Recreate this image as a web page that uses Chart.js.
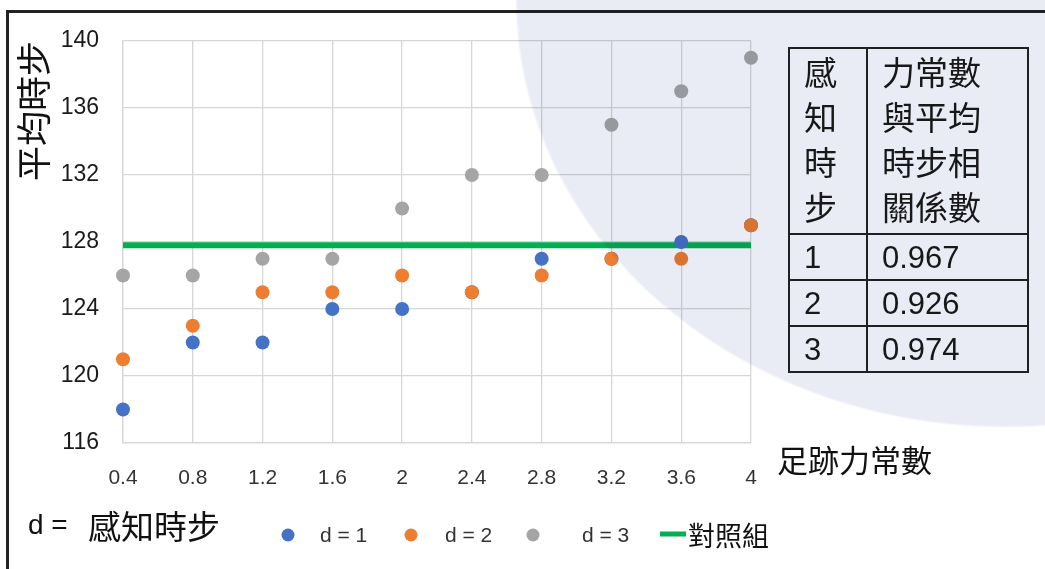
<!DOCTYPE html>
<html>
<head>
<meta charset="utf-8">
<script src="https://cdn.jsdelivr.net/npm/chart.js@4/dist/chart.umd.min.js"></script>
<style>
  html, body { margin: 0; padding: 0; background: #fff; }
  #wrap { position: relative; width: 1045px; height: 569px; overflow: hidden; }
  #frame { position: absolute; left: 6px; top: 10px; width: 1100px; height: 600px;
           border-left: 3px solid #222; border-top: 3px solid #222; }
  canvas { position: absolute; left: 0; top: 0; }
  .txt { position: absolute; white-space: nowrap; color: #111; }
  #corr { position: absolute; left: 788px; top: 47px; border-collapse: collapse;
          table-layout: fixed; font-family: "Liberation Sans", "Noto Sans CJK TC", sans-serif; color: #1a1a1a; }
  #corr td { border: 2px solid #222; padding: 0 0 0 14px; vertical-align: middle; }
  #corr .hd td { font-family: "Noto Sans CJK TC", sans-serif; font-size: 33px; line-height: 45px; vertical-align: top; height: 184px; }
  #corr .num td { font-size: 31px; line-height: 31px; height: 44px; }
  #tint { position: absolute; left: 0; top: 0; width: 1045px; height: 569px; pointer-events: none;
          mix-blend-mode: multiply;
          background: radial-gradient(490px 428px at 1005px 0px, #e9ecf5 0, #e9ecf5 99.4%, rgba(255,255,255,0) 100%); }
</style>
</head>
<body>
<div id="wrap">
  <div id="frame"></div>
  <canvas id="chart" width="1045" height="569"></canvas>
  <div class="txt" style="left:777px; top:443px; font-family:'Noto Sans CJK TC'; font-size:31px; line-height:31px;">足跡力常數</div>
  <div class="txt" style="left:28px; top:510px; font-family:'Liberation Sans'; font-size:28px; line-height:30px;">d =</div>
  <div class="txt" style="left:88px; top:509px; font-family:'Noto Sans CJK TC'; font-size:33px; line-height:33px;">感知時步</div>
  <table id="corr">
    <colgroup><col style="width:78px"><col style="width:161px"></colgroup>
    <tr class="hd"><td>感<br>知<br>時<br>步</td><td>力常數<br>與平均<br>時步相<br>關係數</td></tr>
    <tr class="num"><td>1</td><td>0.967</td></tr>
    <tr class="num"><td>2</td><td>0.926</td></tr>
    <tr class="num"><td>3</td><td>0.974</td></tr>
  </table>
  <div id="tint"></div>
</div>
<script>
const forceLabels = ['0.4', '0.8', '1.2', '1.6', '2', '2.4', '2.8', '3.2', '3.6', '4'];
const stepD1 = [118, 122, 122, 124, 124, 125, 127, 127, 128, 129];
const stepD2 = [121, 123, 125, 125, 126, 125, 126, 127, 127, 129];
const stepD3 = [126, 126, 127, 127, 130, 132, 132, 135, 137, 139];
const control = [127.8, 127.8, 127.8, 127.8, 127.8, 127.8, 127.8, 127.8, 127.8, 127.8];
const yTicks = [116, 120, 124, 128, 132, 136, 140];

// legend drawn by hand so the spacing matches the original
const legendSpots = [[288, 320], [411, 445], [533, 582], [673, 688]];
const customLegend = {
  id: 'customLegend',
  afterDraw(chart) {
    const ctx = chart.ctx;
    const y = 535;
    ctx.save();
    chart.data.datasets.forEach(function (ds, i) {
      const [mx, tx] = legendSpots[i];
      if (ds.showLine === false) {
        ctx.beginPath();
        ctx.arc(mx, y, 6.5, 0, Math.PI * 2);
        ctx.fillStyle = ds.backgroundColor;
        ctx.fill();
      } else {
        ctx.strokeStyle = ds.borderColor;
        ctx.lineWidth = 5;
        ctx.beginPath();
        ctx.moveTo(mx - 13, y - 1);
        ctx.lineTo(mx + 13, y - 1);
        ctx.stroke();
      }
      const cjk = /[^\x00-\x7f]/.test(ds.label);
      ctx.font = cjk ? '27px "Noto Sans CJK TC"' : '21px "Liberation Sans"';
      ctx.fillStyle = cjk ? '#111' : '#333';
      ctx.textBaseline = 'middle';
      ctx.textAlign = 'left';
      ctx.fillText(ds.label, tx, y + 1);
    });
    ctx.restore();
  }
};

const dot = (label, values, color, order) => ({
  label: label,
  data: values,
  order: order,
  showLine: false,
  backgroundColor: color,
  borderColor: color,
  pointRadius: 7,
  pointBorderWidth: 0,
  pointHoverRadius: 7
});

new Chart(document.getElementById('chart'), {
  type: 'line',
  data: {
    labels: forceLabels,
    datasets: [
      dot('d = 1', stepD1, '#4472c4', 3),
      dot('d = 2', stepD2, '#ed7d31', 2),
      dot('d = 3', stepD3, '#a5a5a5', 1),
      {
        label: '對照組',
        data: control,
        order: 4,
        borderColor: '#00b050',
        backgroundColor: '#00b050',
        borderWidth: 6,
        pointRadius: 0,
        borderCapStyle: 'butt'
      }
    ]
  },
  options: {
    responsive: false,
    animation: false,
    layout: { padding: { left: 0, top: 41, right: 294, bottom: 0 } },
    plugins: { legend: { display: false }, tooltip: { enabled: false } },
    scales: {
      x: {
        offset: false,
        grid: { color: '#d6d6d6', lineWidth: 1.3, drawTicks: false },
        border: { color: '#d6d6d6', width: 1.3 },
        ticks: { color: '#333', padding: 23, maxRotation: 0, font: { family: 'Liberation Sans', size: 21 } },
        afterFit: function (axis) { axis.height = 126; }
      },
      y: {
        min: 116,
        max: 140,
        afterBuildTicks: function (axis) { axis.ticks = yTicks.map(v => ({ value: v })); },
        grid: { color: '#d6d6d6', lineWidth: 1.3, drawTicks: false },
        border: { color: '#d6d6d6', width: 1.3 },
        ticks: { color: '#1a1a1a', padding: 24, font: { family: 'Liberation Sans', size: 23 } },
        title: {
          display: true,
          text: '平均時步',
          align: 'end',
          color: '#111',
          padding: { top: 13, bottom: 0 },
          font: { family: 'Noto Sans CJK TC', size: 35 }
        },
        afterFit: function (axis) { axis.width = 123; }
      }
    }
  },
  plugins: [customLegend]
});
</script>
</body>
</html>
